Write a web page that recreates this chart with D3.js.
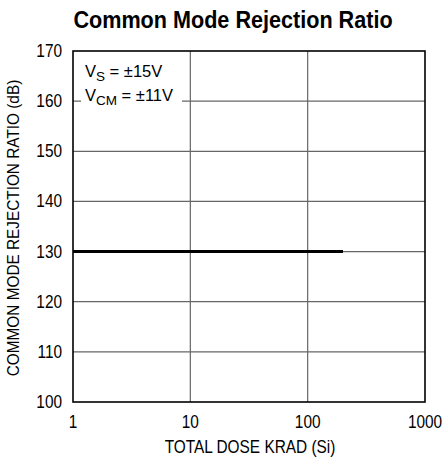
<!DOCTYPE html>
<html><head><meta charset="utf-8">
<script src="https://cdn.jsdelivr.net/npm/d3@7"></script>
<style>
body{margin:0;background:#fff;}
text{font-family:"Liberation Sans",Arial,sans-serif;}
</style></head>
<body><svg id="c" width="448" height="461"></svg>
<script>
const xTicks=[1,10,100,1000];
const yTicks=[100,110,120,130,140,150,160,170];
const doseKrad=[1,200];
const cmrrDb=[130,130];
const title="Common Mode Rejection Ratio";
const xLabel="TOTAL DOSE KRAD (Si)";
const yLabel="COMMON MODE REJECTION RATIO (dB)";

const svg=d3.select("#c");
const L=73,R=425,T=51,B=402;
const x=d3.scaleLog().domain([1,1000]).range([L,R]);
const y=d3.scaleLinear().domain([100,170]).range([B,T]);

// grid
svg.append("g").selectAll("line").data(xTicks.slice(1,-1)).join("line")
 .attr("x1",d=>x(d)).attr("x2",d=>x(d)).attr("y1",T).attr("y2",B)
 .attr("stroke","#666").attr("stroke-width",1.2);
svg.append("g").selectAll("line").data(yTicks.slice(1,-1)).join("line")
 .attr("x1",L).attr("x2",R).attr("y1",d=>y(d)).attr("y2",d=>y(d))
 .attr("stroke","#666").attr("stroke-width",1.2);

// legend
const lg=svg.append("g");
lg.append("rect").attr("x",L+8).attr("y",y(160)-9).attr("width",101).attr("height",18).attr("fill","#fff");
function legendLine(yy,main,sub,rest){
  const t=lg.append("text").attr("transform",`translate(${L+12},${yy})`).attr("font-size",16.5);
  t.append("tspan").text(main);
  t.append("tspan").attr("font-size",13.5).attr("dy",4).text(sub);
  t.append("tspan").attr("dy",-4).text(" = \u00b1"+rest);
}
legendLine(77,"V","S","15V");
legendLine(101,"V","CM","11V");

// border
svg.append("rect").attr("x",L).attr("y",T).attr("width",R-L).attr("height",B-T)
 .attr("fill","none").attr("stroke","#000").attr("stroke-width",1.6);

// data line
svg.append("path").datum(doseKrad.map((d,i)=>[d,cmrrDb[i]]))
 .attr("d",d3.line().x(d=>x(d[0])).y(d=>y(d[1])))
 .attr("stroke","#000").attr("stroke-width",3).attr("fill","none");

// tick labels (condensed)
svg.append("g").selectAll("text").data(xTicks).join("text")
 .attr("transform",d=>`translate(${x(d)},${B+26}) scale(0.88,1)`)
 .attr("text-anchor","middle").attr("font-size",17.5).text(d=>d);
svg.append("g").selectAll("text").data(yTicks).join("text")
 .attr("transform",d=>`translate(${L-11},${y(d)+6}) scale(0.88,1)`)
 .attr("text-anchor","end").attr("font-size",17.5).text(d=>d);

// axis titles
svg.append("text").attr("transform",`translate(250,453) scale(0.88,1)`)
 .attr("text-anchor","middle").attr("font-size",17.5).text(xLabel);
svg.append("text").attr("transform",`translate(19,228) rotate(-90) scale(0.96,1)`)
 .attr("text-anchor","middle").attr("font-size",16).text(yLabel);

// title
svg.append("text").attr("transform",`translate(233,28) scale(0.9,1)`)
 .attr("text-anchor","middle").attr("font-size",24).attr("font-weight","bold").text(title);
</script></body></html>
